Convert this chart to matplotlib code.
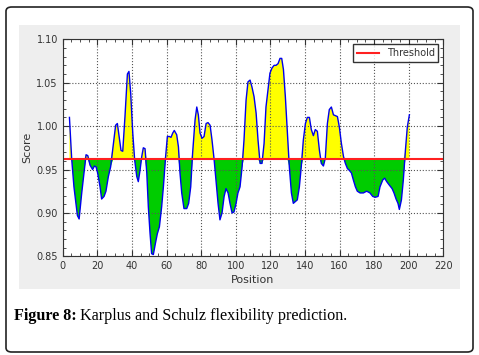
import numpy as np
import matplotlib
matplotlib.use("Agg")
import matplotlib.pyplot as plt
from matplotlib.patches import FancyBboxPatch, Rectangle
from matplotlib.ticker import MultipleLocator

# Karplus & Schulz flexibility scores
position = [3.9, 5.2, 6.5, 8.5, 9.5, 11.0, 12.3, 13.5, 14.5, 15.8, 17.3, 18.3, 19.3,
            20.2, 21.6, 22.5, 23.9, 25.0, 26.4, 27.7, 29.3, 30.6, 31.6, 32.6, 33.7,
            34.7, 36.0, 37.4, 38.3, 39.3, 40.5, 41.6, 42.8, 43.7, 44.7, 45.7, 46.6,
            47.6, 48.6, 49.5, 50.5, 51.4, 52.4, 53.6, 54.7, 55.9, 57.2, 58.2, 59.5,
            60.5, 61.7, 62.6, 63.6, 64.5, 65.9, 66.9, 67.8, 68.8, 70.1, 71.7, 72.8,
            74.0, 75.1, 76.5, 77.5, 78.4, 79.4, 80.5, 81.7, 82.9, 84.0, 85.2, 86.3,
            87.5, 88.6, 89.8, 90.9, 92.1, 93.3, 94.4, 95.6, 96.7, 97.9, 99.0, 100.2,
            101.3, 102.5, 103.7, 104.8, 106.0, 107.1, 108.3, 109.4, 110.6, 111.8,
            112.9, 114.1, 115.2, 116.4, 117.5, 118.7, 119.8, 121.0, 122.2, 123.3,
            124.5, 125.6, 126.6, 127.6, 128.7, 129.9, 131.0, 132.2, 133.3, 134.5,
            135.6, 136.8, 137.9, 139.1, 140.3, 141.4, 142.6, 143.7, 144.9, 146.0,
            147.2, 148.4, 149.5, 150.7, 151.8, 153.0, 154.1, 155.3, 156.5, 157.6,
            158.8, 159.9, 161.1, 162.3, 163.4, 164.6, 165.7, 166.9, 168.0, 169.2,
            170.3, 171.9, 173.8, 175.7, 177.6, 179.2, 180.7, 182.3, 183.4, 185.0,
            186.1, 187.3, 188.8, 190.4, 191.5, 192.7, 193.8, 194.6, 195.8, 196.9,
            198.1, 199.2, 200.4]
score = [1.010, 0.962, 0.930, 0.897, 0.893, 0.923, 0.946, 0.967, 0.966, 0.955, 0.950,
         0.954, 0.953, 0.946, 0.930, 0.916, 0.919, 0.925, 0.942, 0.953, 0.980, 1.001,
         1.003, 0.988, 0.972, 0.971, 1.011, 1.060, 1.063, 1.038, 0.992, 0.961, 0.942,
         0.936, 0.949, 0.965, 0.975, 0.974, 0.946, 0.907, 0.876, 0.853, 0.852, 0.865,
         0.876, 0.884, 0.907, 0.930, 0.965, 0.988, 0.988, 0.987, 0.992, 0.995, 0.990,
         0.976, 0.946, 0.923, 0.905, 0.905, 0.911, 0.930, 0.969, 1.007, 1.022, 1.013,
         0.992, 0.986, 0.988, 1.003, 1.004, 1.001, 0.984, 0.962, 0.938, 0.911, 0.892,
         0.900, 0.919, 0.928, 0.923, 0.911, 0.900, 0.901, 0.911, 0.923, 0.930, 0.953,
         0.984, 1.030, 1.051, 1.053, 1.045, 1.034, 1.015, 0.984, 0.957, 0.957, 0.980,
         1.022, 1.042, 1.061, 1.067, 1.070, 1.070, 1.072, 1.078, 1.078, 1.065, 1.034,
         0.992, 0.953, 0.923, 0.911, 0.913, 0.915, 0.930, 0.953, 0.984, 1.003, 1.010,
         1.010, 0.996, 0.989, 0.996, 0.994, 0.972, 0.957, 0.954, 0.963, 1.003, 1.019,
         1.022, 1.013, 1.012, 1.011, 0.999, 0.980, 0.965, 0.957, 0.951, 0.949, 0.946,
         0.938, 0.930, 0.925, 0.923, 0.923, 0.925, 0.923, 0.919, 0.918, 0.919, 0.930,
         0.938, 0.940, 0.936, 0.932, 0.928, 0.923, 0.916, 0.911, 0.904, 0.915, 0.938,
         0.972, 0.999, 1.013]
threshold = 0.962

x = np.array(position)
y = np.array(score)

fig = plt.figure(figsize=(4.79, 3.55), dpi=100)
fig.patch.set_facecolor("white")

# outer rounded frame and grey panel, kept behind the axes
fig.patches.append(FancyBboxPatch((6 / 479, 3 / 355), 467 / 479, 345 / 355,
                                  boxstyle="round,pad=0,rounding_size=0.012",
                                  transform=fig.transFigure, fill=False,
                                  edgecolor="#222222", linewidth=1.2, zorder=-2))
fig.patches.append(Rectangle((19 / 479, 65.7 / 355), 441 / 479, 264.3 / 355,
                             transform=fig.transFigure, facecolor="#eeeeee",
                             edgecolor="none", zorder=-1))

ax = fig.add_axes([62.7 / 479, 98.7 / 355, 380.6 / 479, 217 / 355])
ax.set_zorder(1)
# above threshold -> yellow, below -> green
ax.fill_between(x, threshold, np.maximum(y, threshold),
                facecolor="#ffff00", edgecolor="none")
ax.fill_between(x, np.minimum(y, threshold), threshold,
                facecolor="#00cc00", edgecolor="none")
ax.plot(x, y, color="#0000ee", linewidth=1.0)
ax.axhline(threshold, color="#ff2020", linewidth=1.5, label="Threshold")

ax.set_xlim(0, 220)
ax.set_ylim(0.85, 1.10)
ax.xaxis.set_major_locator(MultipleLocator(20))
ax.xaxis.set_minor_locator(MultipleLocator(5))
ax.yaxis.set_major_locator(MultipleLocator(0.05))
ax.yaxis.set_minor_locator(MultipleLocator(0.01))
ax.tick_params(which="both", direction="in", top=True, right=True,
               labelsize=7, colors="#333333")
ax.tick_params(which="major", length=4)
ax.tick_params(which="minor", length=2)
ax.grid(True, which="major", linestyle=":", color="#555555", linewidth=0.8)
for s in ax.spines.values():
    s.set_color("#333333")
ax.set_xlabel("Position", fontsize=8, color="#333333", labelpad=3)
ax.set_ylabel("Score", fontsize=8, color="#333333", labelpad=3)

leg = ax.legend(loc="upper right", fontsize=7, fancybox=False,
                handlelength=2.2, borderaxespad=0.5)
leg.get_frame().set_edgecolor("black")
leg.get_frame().set_linewidth(1.0)
for t in leg.get_texts():
    t.set_color("#333333")

# caption
cap1 = fig.text(14 / 479, 1 - 320 / 355, "Figure 8:", fontsize=11.6,
                family="Liberation Serif", fontweight="bold", va="baseline")
fig.canvas.draw()
bb = cap1.get_window_extent(renderer=fig.canvas.get_renderer())
fig.text(bb.x1 / fig.bbox.width + 3 / 479, 1 - 320 / 355,
         "Karplus and Schulz flexibility prediction.", fontsize=11.6,
         family="Liberation Serif", va="baseline")

fig.savefig("out.png", dpi=100, facecolor="white")
